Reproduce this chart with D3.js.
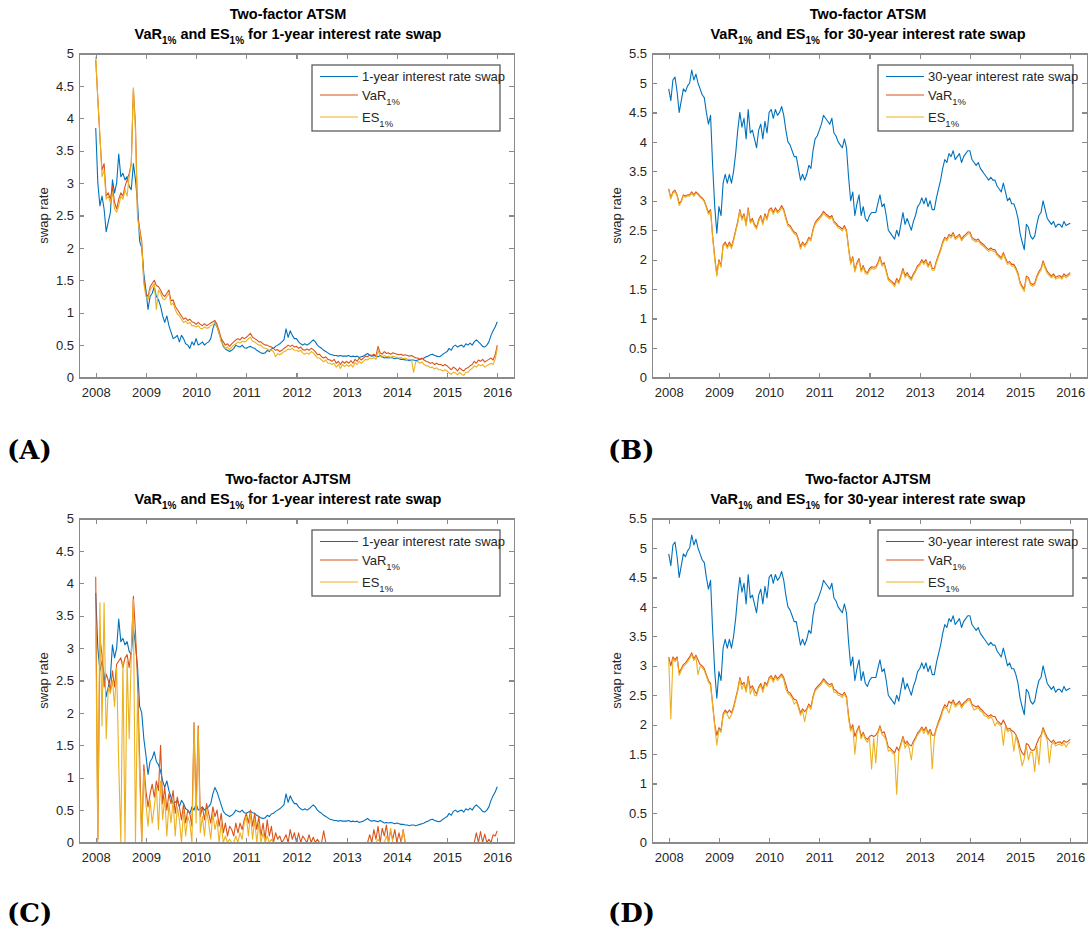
<!DOCTYPE html>
<html lang="en">
<head>
<meta charset="UTF-8">
<title>VaR and ES for interest rate swaps</title>
<script src="https://d3js.org/d3.v7.min.js"></script>
<style>
  body { margin: 0; background: #fff; }
  svg text { font-family: "Liberation Sans", Arial, sans-serif; }
  .title { font-weight: bold; font-size: 14.5px; fill: #000; }
  .axis text { font-size: 13px; fill: #262626; }
  .axis path, .axis line { stroke: #8a8a8a; stroke-width: 1.3; shape-rendering: crispEdges; }
  .ylabel { font-size: 13px; fill: #262626; }
  .legend text { font-size: 13px; fill: #262626; }
  .panel-label { font-family: "DejaVu Serif", serif !important; font-weight: bold; font-size: 26px; fill: #000; }
</style>
</head>
<body>
<svg id="chart" width="1088" height="935"></svg>
<script>
// x axis tick labels and y tick sets
const yearTicks = [2008, 2009, 2010, 2011, 2012, 2013, 2014, 2015, 2016];
const rateTicks5 = [0, 0.5, 1, 1.5, 2, 2.5, 3, 3.5, 4, 4.5, 5];
const rateTicks55 = [0, 0.5, 1, 1.5, 2, 2.5, 3, 3.5, 4, 4.5, 5, 5.5];

// semi-monthly observations, Jan 2008 .. Jan 2016 (24 per row)
const swap1y = [
  3.85, 3.0, 2.65, 2.8, 2.6, 2.25, 2.4, 2.55, 3.05, 2.85, 3.0, 3.45, 3.1, 3.15, 3.05, 3.1, 2.95, 2.9, 3.3, 3.05, 2.7, 2.1, 2.0, 1.6,
  1.35, 1.05, 1.25, 1.3, 1.4, 1.25, 1.2, 1.1, 0.95, 0.85, 0.95, 0.8, 0.7, 0.6, 0.62, 0.65, 0.55, 0.65, 0.6, 0.52, 0.5, 0.45, 0.55, 0.5,
  0.6, 0.5, 0.52, 0.55, 0.5, 0.53, 0.55, 0.6, 0.75, 0.85, 0.78, 0.68, 0.58, 0.48, 0.44, 0.42, 0.4, 0.42, 0.45, 0.5, 0.48, 0.47, 0.5, 0.46,
  0.45, 0.47, 0.48, 0.46, 0.45, 0.42, 0.4, 0.38, 0.37, 0.38, 0.42, 0.4, 0.44, 0.45, 0.48, 0.5, 0.52, 0.55, 0.58, 0.75, 0.62, 0.72, 0.65, 0.6,
  0.6, 0.55, 0.52, 0.5, 0.52, 0.5, 0.52, 0.55, 0.58, 0.55, 0.5, 0.47, 0.45, 0.42, 0.4, 0.38, 0.36, 0.35, 0.34, 0.34, 0.33, 0.34, 0.33, 0.33,
  0.33, 0.34, 0.32, 0.33, 0.32, 0.33, 0.31, 0.32, 0.33, 0.35, 0.37, 0.34, 0.33, 0.34, 0.33, 0.32, 0.34, 0.32, 0.3, 0.31, 0.3, 0.31, 0.3, 0.29,
  0.3, 0.29, 0.28, 0.28, 0.27, 0.27, 0.26, 0.27, 0.27, 0.26, 0.27, 0.28, 0.29, 0.3, 0.32, 0.33, 0.35, 0.36, 0.34, 0.33, 0.32, 0.33, 0.36, 0.38,
  0.4, 0.45, 0.42, 0.48, 0.5, 0.47, 0.49, 0.5, 0.47, 0.52, 0.5, 0.53, 0.5, 0.55, 0.58, 0.55, 0.52, 0.48, 0.47, 0.5, 0.55, 0.65, 0.72, 0.78,
  0.86
];

const swap30y = [
  4.9, 4.7, 5.05, 5.1, 4.85, 4.5, 4.7, 4.9, 4.85, 4.95, 5.0, 5.22, 5.05, 5.15, 5.0, 4.9, 4.8, 4.75, 4.5, 4.3, 4.45, 3.6, 2.9, 2.45,
  2.9, 2.75, 3.3, 3.45, 3.3, 3.45, 3.3, 3.5, 3.8, 4.2, 4.5, 4.25, 4.4, 4.05, 4.55, 4.15, 4.2, 4.05, 3.9, 4.2, 4.3, 4.05, 4.35, 4.15,
  4.5, 4.55, 4.4, 4.55, 4.45, 4.5, 4.6, 4.45, 4.2, 4.0, 3.95, 3.85, 3.75, 3.75, 3.55, 3.35, 3.45, 3.35, 3.45, 3.6, 3.55, 3.85, 4.05, 4.1,
  4.2, 4.3, 4.45, 4.4, 4.35, 4.3, 4.4, 4.15, 4.1, 4.0, 3.95, 3.9, 4.05, 3.9, 3.4, 3.0, 3.15, 2.75, 2.95, 3.1, 2.75, 2.9, 2.7, 2.65,
  2.75, 2.8, 2.8, 2.8, 2.95, 3.1, 2.9, 2.95, 2.75, 2.5, 2.45, 2.4, 2.35, 2.5, 2.4, 2.6, 2.8, 2.6, 2.7, 2.6, 2.5, 2.65, 2.75, 2.9,
  2.95, 3.05, 2.95, 3.05, 2.9, 3.0, 2.85, 2.85, 3.05, 3.2, 3.35, 3.55, 3.7, 3.65, 3.8, 3.75, 3.85, 3.7, 3.75, 3.8, 3.65, 3.75, 3.8, 3.85,
  3.85, 3.7, 3.65, 3.6, 3.65, 3.55, 3.5, 3.45, 3.4, 3.35, 3.4, 3.35, 3.35, 3.25, 3.2, 3.15, 3.3, 3.15, 3.0, 3.05, 2.95, 2.95, 2.85, 2.7,
  2.45, 2.3, 2.17, 2.6, 2.55, 2.4, 2.35, 2.4, 2.6, 2.75, 2.8, 3.0, 2.85, 2.7, 2.65, 2.6, 2.65, 2.55, 2.6, 2.6, 2.55, 2.65, 2.58, 2.6,
  2.62
];

// (A) two-factor ATSM, 1-year swap
const varAtsm1y = [
  4.9, 4.3, 3.7, 3.2, 3.3, 2.8, 2.85, 2.75, 2.95, 2.7, 2.6, 2.75, 2.85, 2.8, 2.95, 3.05, 3.15, 3.3, 4.45, 3.9, 2.5, 2.3, 2.1, 1.5,
  1.3, 1.25, 1.4, 1.45, 1.5, 1.42, 1.4, 1.35, 1.28, 1.25, 1.3, 1.35, 1.18, 1.2, 1.1, 1.05, 1.0, 0.95, 0.9, 0.92, 0.88, 0.9, 0.86, 0.85,
  0.82, 0.85, 0.82, 0.8, 0.83, 0.8, 0.82, 0.84, 0.86, 0.88, 0.82, 0.72, 0.6, 0.55, 0.5, 0.52, 0.48, 0.52, 0.55, 0.58, 0.6, 0.58, 0.62, 0.6,
  0.62, 0.65, 0.68, 0.62, 0.6, 0.58, 0.55, 0.55, 0.52, 0.5, 0.5, 0.48, 0.47, 0.45, 0.42, 0.43, 0.4, 0.42, 0.45, 0.47, 0.5, 0.48, 0.5, 0.47,
  0.48, 0.45, 0.47, 0.43, 0.42, 0.44, 0.42, 0.45, 0.43, 0.4, 0.35, 0.36, 0.32, 0.3, 0.32, 0.28, 0.27, 0.25, 0.28, 0.22, 0.25, 0.2, 0.25, 0.22,
  0.25, 0.22, 0.26, 0.22, 0.28, 0.25, 0.3, 0.27, 0.3, 0.33, 0.32, 0.35, 0.34, 0.36, 0.33, 0.48, 0.38, 0.36, 0.4, 0.37, 0.38, 0.36, 0.38, 0.37,
  0.36, 0.35, 0.36, 0.34, 0.35, 0.34, 0.33, 0.34, 0.32, 0.3, 0.3, 0.28, 0.3, 0.27, 0.25, 0.24, 0.22, 0.23, 0.2, 0.22, 0.2, 0.2, 0.18, 0.2,
  0.18, 0.15, 0.12, 0.16, 0.14, 0.1, 0.15, 0.12, 0.1, 0.14, 0.15, 0.18, 0.2, 0.25, 0.22, 0.27, 0.25, 0.28, 0.24, 0.26, 0.28, 0.3, 0.27, 0.35,
  0.5
];
const esAtsm1y = [
  4.95, 4.3, 3.75, 3.1, 3.2, 2.75, 2.8, 2.7, 2.85, 2.6, 2.55, 2.65, 2.8, 2.75, 2.9, 2.8, 3.1, 3.3, 4.47, 3.8, 2.45, 2.25, 2.05, 1.45,
  1.25, 1.2, 1.35, 1.4, 1.45, 1.05, 1.35, 1.3, 1.22, 1.2, 1.25, 1.3, 1.12, 1.15, 1.05, 0.98, 0.95, 0.9, 0.85, 0.87, 0.83, 0.85, 0.8, 0.8,
  0.78, 0.8, 0.76, 0.75, 0.78, 0.76, 0.77, 0.8, 0.82, 0.84, 0.78, 0.68, 0.55, 0.5, 0.45, 0.47, 0.43, 0.47, 0.5, 0.52, 0.55, 0.53, 0.56, 0.55,
  0.56, 0.6, 0.62, 0.56, 0.55, 0.52, 0.5, 0.5, 0.46, 0.45, 0.44, 0.42, 0.42, 0.4, 0.32, 0.37, 0.35, 0.37, 0.4, 0.41, 0.44, 0.43, 0.45, 0.42,
  0.42, 0.4, 0.42, 0.38, 0.36, 0.38, 0.36, 0.4, 0.38, 0.34, 0.3, 0.3, 0.27, 0.24, 0.27, 0.22, 0.22, 0.2, 0.22, 0.16, 0.2, 0.14, 0.2, 0.17,
  0.2, 0.17, 0.2, 0.16, 0.23, 0.2, 0.25, 0.22, 0.25, 0.28, 0.27, 0.3, 0.29, 0.31, 0.28, 0.42, 0.33, 0.31, 0.34, 0.32, 0.33, 0.31, 0.33, 0.32,
  0.31, 0.3, 0.31, 0.29, 0.3, 0.28, 0.28, 0.27, 0.08, 0.24, 0.25, 0.22, 0.24, 0.2, 0.18, 0.18, 0.15, 0.16, 0.13, 0.15, 0.12, 0.12, 0.1, 0.12,
  0.1, 0.07, 0.05, 0.08, 0.07, 0.04, 0.08, 0.05, 0.03, 0.08, 0.08, 0.12, 0.14, 0.18, 0.16, 0.2, 0.18, 0.2, 0.16, 0.18, 0.2, 0.22, 0.2, 0.28,
  0.45
];

// (B) two-factor ATSM, 30-year swap
const varAtsm30y = [
  3.2, 3.05, 3.15, 3.18, 3.1, 2.95, 3.0, 3.1, 3.08, 3.1, 3.1, 3.15, 3.1, 3.15, 3.12, 3.08, 3.05, 3.0, 2.9, 2.8, 2.85, 2.4, 2.05, 1.75,
  2.0, 1.9, 2.25, 2.3, 2.22, 2.3, 2.22, 2.35, 2.5, 2.65, 2.85, 2.7, 2.78, 2.6, 2.88, 2.65, 2.7, 2.6, 2.55, 2.68, 2.75, 2.62, 2.78, 2.7,
  2.85, 2.88, 2.8, 2.88, 2.82, 2.85, 2.92, 2.85, 2.72, 2.6, 2.58, 2.52, 2.47, 2.45, 2.35, 2.22, 2.3, 2.25, 2.3, 2.38, 2.35, 2.52, 2.63, 2.68,
  2.72, 2.76, 2.82, 2.78, 2.75, 2.72, 2.75, 2.65, 2.62, 2.57, 2.55, 2.52, 2.58, 2.5, 2.2, 1.95, 2.05, 1.82, 1.95, 2.02, 1.82, 1.9, 1.8, 1.78,
  1.85, 1.88, 1.87, 1.88, 1.95, 2.05, 1.92, 1.95, 1.82, 1.68, 1.65, 1.62, 1.58, 1.68, 1.62, 1.73, 1.85, 1.73, 1.78, 1.72, 1.68, 1.76, 1.82, 1.9,
  1.93, 2.0, 1.95, 2.0, 1.9, 1.97, 1.85, 1.85, 1.98, 2.08, 2.18, 2.3, 2.38, 2.35, 2.43, 2.4, 2.46, 2.37, 2.4, 2.43, 2.35, 2.4, 2.43, 2.47,
  2.47, 2.38, 2.35, 2.33, 2.35, 2.3, 2.27, 2.24, 2.2, 2.17, 2.2, 2.17, 2.17, 2.1, 2.07, 2.03, 2.12, 2.03, 1.95, 1.97, 1.92, 1.92, 1.86, 1.77,
  1.62, 1.55, 1.5, 1.72, 1.7, 1.6, 1.58, 1.6, 1.72, 1.8, 1.85, 1.98, 1.88, 1.8, 1.76, 1.72, 1.76, 1.7, 1.72, 1.73, 1.7, 1.76, 1.72, 1.75,
  1.78
];
const esAtsm30y = [
  3.18, 3.03, 3.13, 3.15, 3.08, 2.92, 2.98, 3.08, 3.06, 3.08, 3.08, 3.13, 3.08, 3.13, 3.1, 3.06, 3.03, 2.98, 2.88, 2.77, 2.82, 2.37, 2.0, 1.72,
  1.97, 1.87, 2.22, 2.27, 2.19, 2.27, 2.19, 2.32, 2.47, 2.62, 2.82, 2.67, 2.75, 2.57, 2.85, 2.62, 2.67, 2.57, 2.52, 2.65, 2.72, 2.59, 2.75, 2.67,
  2.82, 2.85, 2.77, 2.85, 2.79, 2.82, 2.89, 2.82, 2.69, 2.57, 2.55, 2.49, 2.44, 2.42, 2.32, 2.18, 2.27, 2.22, 2.27, 2.35, 2.32, 2.49, 2.6, 2.65,
  2.69, 2.73, 2.79, 2.75, 2.72, 2.69, 2.72, 2.62, 2.59, 2.54, 2.52, 2.49, 2.55, 2.47, 2.17, 1.92, 2.02, 1.79, 1.92, 1.99, 1.79, 1.87, 1.77, 1.75,
  1.82, 1.85, 1.84, 1.85, 1.92, 2.02, 1.89, 1.92, 1.79, 1.65, 1.62, 1.59, 1.54, 1.65, 1.59, 1.7, 1.82, 1.7, 1.75, 1.69, 1.65, 1.73, 1.79, 1.87,
  1.9, 1.97, 1.92, 1.97, 1.87, 1.94, 1.82, 1.82, 1.95, 2.05, 2.15, 2.27, 2.35, 2.32, 2.4, 2.37, 2.43, 2.34, 2.37, 2.4, 2.32, 2.37, 2.4, 2.44,
  2.44, 2.35, 2.32, 2.3, 2.32, 2.27, 2.24, 2.21, 2.17, 2.14, 2.17, 2.14, 2.14, 2.07, 2.04, 2.0, 2.09, 2.0, 1.92, 1.94, 1.89, 1.89, 1.83, 1.74,
  1.59, 1.52, 1.46, 1.69, 1.67, 1.57, 1.55, 1.57, 1.69, 1.77, 1.82, 1.95, 1.85, 1.77, 1.73, 1.69, 1.73, 1.67, 1.69, 1.7, 1.67, 1.73, 1.69, 1.72,
  1.75
];

// (C) two-factor AJTSM, 1-year swap
const varAjtsm1y = [
  4.1, 0.05, 3.15, 2.9, 2.4, 2.6, 2.5, 2.35, 2.65, 2.4, 2.75, 2.8, 2.85, 2.7, 2.85, 2.9, 2.7, 2.95, 3.8, 3.25, 2.5, 1.3, 0.02, 1.2,
  0.8, 0.55, 0.75, 0.9, 0.7, 0.95, 0.8, 1.5, 0.6, 0.85, 0.5, 0.75, 0.6, 0.8, 0.45, 0.7, 0.55, 0.35, 0.6, 0.3, 0.5, 0.45, 0.25, 1.85,
  0.55, 1.8, 0.4, 0.55, 0.35, 0.6, 0.45, 0.3, 0.55, 0.4, 0.5, 0.25, 0.45, 0.15, 0.3, 0.1, 0.25, 0.2, 0.1, 0.3, 0.15, 0.3, 0.2, 0.35,
  0.45, 0.3, 0.5, 0.25, 0.45, 0.2, 0.4, 0.1, 0.3, 0.05, 0.35, 0.1, 0.25, 0.0, 0.15, 0.05, 0.1, 0.0, 0.05, 0.12, 0.0, 0.2, 0.05, 0.15,
  0.0, 0.15, 0.0, 0.1, 0.05, 0.0, 0.12, 0.0, 0.08, 0.0, 0.05, 0.0, 0.0, 0.18, 0.0, 0.0, 0.0, 0.0, 0.0, 0.0, 0.0, 0.0, 0.0, 0.0,
  0.0, 0.0, 0.0, 0.0, 0.0, 0.0, 0.0, 0.0, 0.0, 0.0, 0.0, 0.12, 0.0, 0.2, 0.05, 0.25, 0.0, 0.22, 0.1, 0.27, 0.0, 0.18, 0.05, 0.2,
  0.0, 0.15, 0.0, 0.2, 0.0, 0.0, 0.0, 0.0, 0.0, 0.0, 0.0, 0.0, 0.0, 0.0, 0.0, 0.0, 0.0, 0.0, 0.0, 0.0, 0.0, 0.0, 0.0, 0.0,
  0.0, 0.0, 0.0, 0.0, 0.0, 0.0, 0.0, 0.0, 0.0, 0.0, 0.0, 0.0, 0.0, 0.0, 0.15, 0.0, 0.17, 0.0, 0.13, 0.0, 0.05, 0.0, 0.12, 0.1,
  0.18
];
const esAjtsm1y = [
  3.35, 0.0, 3.7, 1.8, 3.7, 1.6, 2.4, 2.3, 2.5, 2.1, 2.7, 1.2, 0.0, 2.8, 0.0, 2.8, 1.6, 2.9, 3.75, 0.0, 2.3, 1.0, 0.0, 1.1,
  0.6, 0.25, 0.65, 0.3, 0.55, 0.85, 0.2, 0.95, 0.35, 0.7, 0.1, 0.6, 0.3, 0.65, 0.1, 0.55, 0.35, 0.0, 0.5, 0.1, 0.4, 0.3, 0.0, 1.8,
  0.3, 1.75, 0.15, 0.4, 0.1, 0.5, 0.3, 0.05, 0.45, 0.2, 0.35, 0.0, 0.3, 0.0, 0.1, 0.0, 0.05, 0.0, 0.0, 0.1, 0.0, 0.15, 0.05, 0.3,
  0.4, 0.1, 0.45, 0.05, 0.35, 0.0, 0.3, 0.0, 0.15, 0.0, 0.1, 0.0, 0.05, 0.0, 0.0, 0.0, 0.0, 0.0, 0.0, 0.0, 0.0, 0.0, 0.0, 0.0,
  0.0, 0.0, 0.0, 0.0, 0.0, 0.0, 0.0, 0.0, 0.0, 0.0, 0.0, 0.0, 0.0, 0.0, 0.0, 0.0, 0.0, 0.0, 0.0, 0.0, 0.0, 0.0, 0.0, 0.0,
  0.0, 0.0, 0.0, 0.0, 0.0, 0.0, 0.0, 0.0, 0.0, 0.0, 0.0, 0.0, 0.0, 0.0, 0.0, 0.05, 0.0, 0.0, 0.0, 0.1, 0.0, 0.22, 0.0, 0.0,
  0.0, 0.0, 0.0, 0.18, 0.0, 0.0, 0.0, 0.0, 0.0, 0.0, 0.0, 0.0, 0.0, 0.0, 0.0, 0.0, 0.0, 0.0, 0.0, 0.0, 0.0, 0.0, 0.0, 0.0,
  0.0, 0.0, 0.0, 0.0, 0.0, 0.0, 0.0, 0.0, 0.0, 0.0, 0.0, 0.0, 0.0, 0.0, 0.0, 0.0, 0.0, 0.0, 0.0, 0.0, 0.0, 0.0, 0.0, 0.0,
  0.0
];

// (D) two-factor AJTSM, 30-year swap
const varAjtsm30y = [
  3.15, 3.0, 3.15, 3.1, 3.15, 2.88, 2.95, 3.02, 3.05, 3.1, 3.15, 3.22, 3.12, 3.18, 3.1, 3.02, 3.0, 2.95, 2.85, 2.75, 2.7, 2.35, 2.0, 1.82,
  1.95, 1.9, 2.18, 2.25, 2.2, 2.25, 2.2, 2.3, 2.45, 2.6, 2.8, 2.68, 2.72, 2.58, 2.82, 2.62, 2.66, 2.58, 2.52, 2.64, 2.7, 2.6, 2.72, 2.68,
  2.8, 2.83, 2.76, 2.84, 2.78, 2.82, 2.86, 2.8, 2.68, 2.56, 2.54, 2.48, 2.43, 2.42, 2.32, 2.2, 2.27, 2.22, 2.27, 2.35, 2.3, 2.48, 2.6, 2.64,
  2.68, 2.72, 2.78, 2.74, 2.7, 2.68, 2.7, 2.6, 2.58, 2.54, 2.52, 2.5, 2.55, 2.48, 2.15, 1.92, 2.0, 1.8, 1.9, 1.98, 1.8, 1.87, 1.78, 1.75,
  1.8, 1.82, 1.8, 1.82, 1.88, 1.98, 1.86, 1.88, 1.76, 1.62, 1.6, 1.56, 1.52, 1.62, 1.56, 1.68, 1.8, 1.68, 1.72, 1.66, 1.64, 1.72, 1.78, 1.86,
  1.9, 1.96, 1.9, 1.96, 1.86, 1.92, 1.82, 1.82, 1.95, 2.05, 2.15, 2.26, 2.34, 2.3, 2.4, 2.36, 2.42, 2.34, 2.36, 2.4, 2.32, 2.37, 2.4, 2.44,
  2.44, 2.35, 2.32, 2.3, 2.32, 2.27, 2.24, 2.2, 2.17, 2.14, 2.17, 2.14, 2.14, 2.07, 2.04, 2.0, 2.08, 2.0, 1.92, 1.94, 1.9, 1.88, 1.83, 1.74,
  1.6, 1.52, 1.48, 1.68, 1.66, 1.58, 1.56, 1.58, 1.68, 1.77, 1.82, 1.95, 1.86, 1.78, 1.74, 1.7, 1.74, 1.68, 1.7, 1.71, 1.68, 1.73, 1.7, 1.72,
  1.75
];
const esAjtsm30y = [
  3.12, 2.1, 3.12, 3.07, 3.12, 2.84, 2.92, 2.99, 3.02, 3.07, 3.12, 3.19, 3.09, 3.15, 2.85, 2.99, 2.97, 2.92, 2.82, 2.72, 2.67, 2.32, 1.97, 1.65,
  1.92, 1.87, 2.15, 2.22, 2.17, 2.1, 2.17, 2.27, 2.42, 2.57, 2.77, 2.6, 2.69, 2.55, 2.79, 2.52, 2.63, 2.5, 2.49, 2.61, 2.67, 2.55, 2.69, 2.65,
  2.77, 2.8, 2.72, 2.81, 2.75, 2.79, 2.83, 2.76, 2.6, 2.53, 2.5, 2.45, 2.35, 2.39, 2.29, 2.16, 2.24, 2.05, 2.24, 2.32, 2.26, 2.45, 2.57, 2.61,
  2.65, 2.69, 2.75, 2.71, 2.67, 2.64, 2.67, 2.55, 2.55, 2.5, 2.49, 2.46, 2.52, 2.45, 2.1, 1.89, 1.96, 1.5, 1.87, 1.95, 1.76, 1.84, 1.75, 1.7,
  1.77, 1.25, 1.77, 1.35, 1.85, 1.95, 1.83, 1.8, 1.73, 1.55, 1.57, 1.52, 1.49, 0.82, 1.53, 1.65, 1.77, 1.6, 1.69, 1.6, 1.4, 1.69, 1.75, 1.83,
  1.87, 1.93, 1.85, 1.93, 1.83, 1.89, 1.25, 1.78, 1.92, 2.02, 2.1, 2.23, 2.3, 2.27, 2.2, 2.33, 2.39, 2.3, 2.33, 2.37, 2.28, 2.34, 2.37, 2.41,
  2.41, 2.32, 2.25, 2.27, 2.29, 2.23, 2.21, 2.15, 2.14, 2.1, 2.14, 2.08, 1.98, 2.04, 2.0, 1.97, 1.65, 1.97, 1.88, 1.91, 1.86, 1.55, 1.8, 1.68,
  1.5, 1.3, 1.42, 1.64, 1.4, 1.54, 1.52, 1.2, 1.64, 1.32, 1.78, 1.92, 1.82, 1.74, 1.35, 1.66, 1.7, 1.64, 1.66, 1.67, 1.64, 1.69, 1.62, 1.68,
  1.7
];

const startYear = 2008, stepYear = 1 / 24;
const colors = { swap: "#0072BD", var: "#D95319", es: "#EDB120" };

const panels = [
  { key: "A", model: "ATSM", tenor: "1-year", swap: swap1y, v: varAtsm1y, e: esAtsm1y, yMax: 5, ticks: rateTicks5,
    left: 79, top: 53.5, titleX: 288, legX: 312, legW: 188, labelX: 7, labelY: 459 },
  { key: "B", model: "ATSM", tenor: "30-year", swap: swap30y, v: varAtsm30y, e: esAtsm30y, yMax: 5.5, ticks: rateTicks55,
    left: 652, top: 53.5, titleX: 868, legX: 878, legW: 195, labelX: 608, labelY: 459 },
  { key: "C", model: "AJTSM", tenor: "1-year", swap: swap1y, v: varAjtsm1y, e: esAjtsm1y, yMax: 5, ticks: rateTicks5,
    left: 79, top: 518.5, titleX: 288, legX: 312, legW: 188, labelX: 7, labelY: 922 },
  { key: "D", model: "AJTSM", tenor: "30-year", swap: swap30y, v: varAjtsm30y, e: esAjtsm30y, yMax: 5.5, ticks: rateTicks55,
    left: 652, top: 518.5, titleX: 868, legX: 878, legW: 195, labelX: 608, labelY: 922 }
];
const plotW = 435, plotH = 324;

const svg = d3.select("#chart");

// text with "1%" subscripts: parts = [[text, isSub], ...]
function richText(sel, parts, subSize) {
  let lowered = false;
  parts.forEach(([txt, sub]) => {
    const t = sel.append("tspan").text(txt);
    if (sub && !lowered) { t.attr("dy", 5).attr("font-size", subSize); lowered = true; }
    else if (sub) { t.attr("font-size", subSize); }
    else if (lowered) { t.attr("dy", -5); lowered = false; }
  });
}

panels.forEach((p, pi) => {
  const x = d3.scaleLinear().domain([2008 - 1 / 3, 2016 + 1 / 3]).range([0, plotW]);
  const y = d3.scaleLinear().domain([0, p.yMax]).range([plotH, 0]);
  const g = svg.append("g").attr("transform", `translate(${p.left},${p.top})`);

  g.append("clipPath").attr("id", "clip" + pi)
    .append("rect").attr("width", plotW).attr("height", plotH);

  // titles
  svg.append("text").attr("class", "title").attr("x", p.titleX).attr("y", p.top - 34.5)
    .attr("text-anchor", "middle").text("Two-factor " + p.model);
  const t2 = svg.append("text").attr("class", "title").attr("x", p.titleX).attr("y", p.top - 15)
    .attr("text-anchor", "middle");
  richText(t2, [["VaR", false], ["1%", true], [" and ES", false], ["1%", true],
    [" for " + p.tenor + " interest rate swap", false]], 10);

  // series
  const line = d3.line().x((d, i) => x(startYear + i * stepYear)).y(d => y(d));
  const lines = g.append("g").attr("clip-path", `url(#clip${pi})`);
  [[p.swap, colors.swap], [p.v, colors.var], [p.e, colors.es]].forEach(([arr, c]) => {
    lines.append("path").datum(arr).attr("d", line)
      .attr("fill", "none").attr("stroke", c).attr("stroke-width", 1.1)
      .attr("stroke-linejoin", "round");
  });

  // axes (box with inward ticks)
  g.append("g").attr("class", "axis").attr("transform", `translate(0,${plotH})`)
    .call(d3.axisBottom(x).tickValues(yearTicks).tickFormat(d3.format("d"))
      .tickSizeInner(-5).tickSizeOuter(0).tickPadding(10));
  g.append("g").attr("class", "axis")
    .call(d3.axisTop(x).tickValues(yearTicks).tickFormat("").tickSizeInner(-5).tickSizeOuter(0));
  g.append("g").attr("class", "axis")
    .call(d3.axisLeft(y).tickValues(p.ticks).tickFormat(d3.format("~g"))
      .tickSizeInner(-5).tickSizeOuter(0).tickPadding(5));
  g.append("g").attr("class", "axis").attr("transform", `translate(${plotW},0)`)
    .call(d3.axisRight(y).tickValues(p.ticks).tickFormat("").tickSizeInner(-5).tickSizeOuter(0));

  // y label
  svg.append("text").attr("class", "ylabel")
    .attr("transform", `translate(${p.left - 31},${p.top + plotH / 2}) rotate(-90)`)
    .attr("text-anchor", "middle").text("swap rate");

  // legend
  const lg = svg.append("g").attr("class", "legend")
    .attr("transform", `translate(${p.legX},${p.top + 11.5})`);
  lg.append("rect").attr("width", p.legW).attr("height", 66)
    .attr("fill", "#fff").attr("stroke", "#5c5c5c").attr("stroke-width", 1.3);
  const rows = [
    [colors.swap, [[p.tenor + " interest rate swap", false]], 11.5],
    [colors.var, [["VaR", false], ["1%", true]], 30],
    [colors.es, [["ES", false], ["1%", true]], 52]
  ];
  rows.forEach(([c, parts, ry]) => {
    lg.append("line").attr("x1", 8).attr("x2", 46).attr("y1", ry).attr("y2", ry)
      .attr("stroke", c).attr("stroke-width", 1.1);
    const tt = lg.append("text").attr("x", 50).attr("y", ry + 4.5);
    richText(tt, parts, 9.5);
  });

  // panel label
  svg.append("text").attr("class", "panel-label").attr("x", p.labelX).attr("y", p.labelY)
    .text("(" + p.key + ")");
});
</script>
</body>
</html>
